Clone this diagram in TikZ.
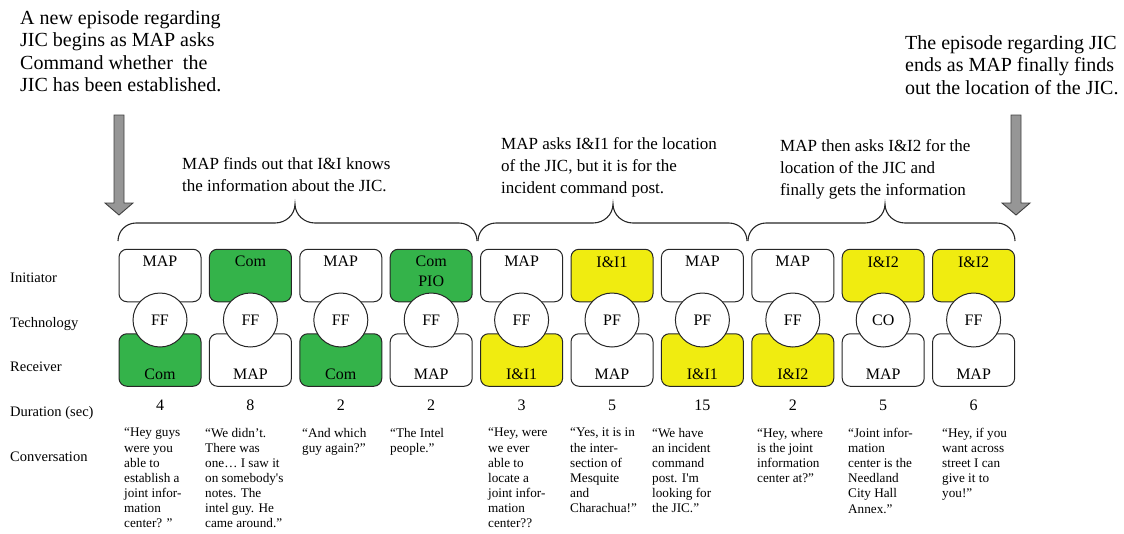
\documentclass[tikz,border=0pt]{standalone}
\usepackage{fontspec}
\setmainfont{Liberation Serif}
\usetikzlibrary{calc}

\definecolor{talkgreen}{RGB}{52,179,74}
\definecolor{talkyellow}{RGB}{240,236,16}
\definecolor{episodegray}{RGB}{150,150,150}

% one exchange: #1 index, #2 initiator, #3 initiator fill, #4 technology,
% #5 receiver, #6 receiver fill, #7 duration, #8 left edge of quote, #9 quote
\newcommand{\commstep}[9]{%
  \pgfmathsetmacro{\colx}{160+90.4*(#1-1)}
  \node[partybox, fill=#3] (ini#1) at (\colx,275.5) {};
  \node[partybox, fill=#6] (rec#1) at (\colx,360) {};
  \node[boxtxt, anchor=north] (init#1) at (\colx,256.2) {#2};
  \node[boxtxt, anchor=base] (rect#1) at (\colx,379) {#5};
  \node[techcircle] (tech#1) at (\colx,320) {#4};
  \node[durtxt, anchor=base] (dur#1) at (\colx,410) {#7};
  \node[convtxt] (conv#1) at (#8,428) {#9};
}

\begin{document}
\begin{tikzpicture}[x=1pt,y=-1pt,
  partybox/.style={draw=black!85, line width=1pt, rounded corners=8pt,
    minimum width=82pt, minimum height=52.5pt, inner sep=0pt},
  techcircle/.style={circle, draw=black!85, line width=1pt, fill=white,
    minimum size=54pt, inner sep=0pt, font=\fontsize{16}{18}\selectfont},
  boxtxt/.style={font=\fontsize{16}{20}\selectfont, align=center, inner sep=0pt},
  rowlabel/.style={anchor=base west, font=\fontsize{14.5}{17}\selectfont, inner sep=0pt},
  durtxt/.style={font=\fontsize{16}{18}\selectfont, inner sep=0pt},
  convtxt/.style={anchor=north west, align=left, inner sep=0pt,
    font=\fontsize{13.2}{15.1}\selectfont},
  bigtxt/.style={anchor=north west, align=left, inner sep=0pt,
    font=\fontsize{20}{22.5}\selectfont},
  bracetxt/.style={anchor=north west, align=left, inner sep=0pt,
    font=\fontsize{17}{22}\selectfont},
  bracket/.style={line width=1.1pt, draw=black!85},
  episodearrow/.style={draw=black!75, line width=0.9pt, fill=episodegray}
]
\useasboundingbox (0,0) rectangle (1124,533);

% episode notes
\node[bigtxt] (start) at (20,10) {A new episode regarding\\JIC begins as MAP asks\\Command whether\ \ the\\JIC has been established.};
\node[bigtxt] (finish) at (905,35) {The episode regarding JIC\\ends as MAP finally finds\\out the location of the JIC.};

% episode begin / end arrows
\foreach \ax/\nm in {119/startarrow, 1016/endarrow}{
  \coordinate (\nm) at (\ax,215);
  \path[episodearrow] (\ax-5,115) -- (\ax+5,115) -- (\ax+5,203) -- (\ax+14,203)
    -- (\nm) -- (\ax-14,203) -- (\ax-5,203) -- cycle;
}

% phase descriptions
\node[bracetxt] (phase1) at (182,157) {MAP finds out that I\&I knows\\the information about the JIC.};
\node[bracetxt] (phase2) at (501,137) {MAP asks I\&I1 for the location\\of the JIC, but it is for the\\incident command post.};
\node[bracetxt] (phase3) at (780,139) {MAP then asks I\&I2 for the\\location of the JIC and\\finally gets the information};

% braces grouping the exchanges
\foreach \xa/\xm/\xb in {118/295/477, 478/613/747, 748/885/1015}{
  \draw[bracket] (\xa,241) to[out=90,in=180] (\xa+18,223) -- (\xm-20,223)
    to[out=0,in=-90] (\xm,204) to[out=-90,in=180] (\xm+20,223)
    -- (\xb-18,223) to[out=0,in=90] (\xb,241);
}

% row labels
\node[rowlabel] (lini) at (10,282) {Initiator};
\node[rowlabel] (ltech) at (10,327) {Technology};
\node[rowlabel] (lrec) at (10,371) {Receiver};
\node[rowlabel] (ldur) at (10,416) {Duration (sec)};
\node[rowlabel] (lconv) at (10,461) {Conversation};

% the exchanges
\commstep{1}{MAP}{white}{FF}{Com}{talkgreen}{4}{124}{“Hey guys\\were you\\able to\\establish a\\joint infor-\\mation\\center? ”}
\commstep{2}{Com}{talkgreen}{FF}{MAP}{white}{8}{205}{“We didn’t.\\There was\\one… I saw it\\on somebody\textquotesingle s\\notes. The\\intel guy. He\\came around.”}
\commstep{3}{MAP}{white}{FF}{Com}{talkgreen}{2}{302}{“And which\\guy again?”}
\commstep{4}{Com\\PIO}{talkgreen}{FF}{MAP}{white}{2}{390}{“The Intel\\people.”}
\commstep{5}{MAP}{white}{FF}{I\&I1}{talkyellow}{3}{488}{“Hey, were\\we ever\\able to\\locate a\\joint infor-\\mation\\center??}
\commstep{6}{I\&I1}{talkyellow}{PF}{MAP}{white}{5}{570}{“Yes, it is in\\the inter-\\section of\\Mesquite\\and\\Charachua!”}
\commstep{7}{MAP}{white}{PF}{I\&I1}{talkyellow}{15}{652}{“We have\\an incident\\command\\post. I\textquotesingle m\\looking for\\the JIC.”}
\commstep{8}{MAP}{white}{FF}{I\&I2}{talkyellow}{2}{757}{“Hey, where\\is the joint\\information\\center at?”}
\commstep{9}{I\&I2}{talkyellow}{CO}{MAP}{white}{5}{848}{“Joint infor-\\mation\\center is the\\Needland\\City Hall\\Annex.”}
\commstep{10}{I\&I2}{talkyellow}{FF}{MAP}{white}{6}{942}{“Hey, if you\\want across\\street I can\\give it to\\you!”}
\end{tikzpicture}
\end{document}
